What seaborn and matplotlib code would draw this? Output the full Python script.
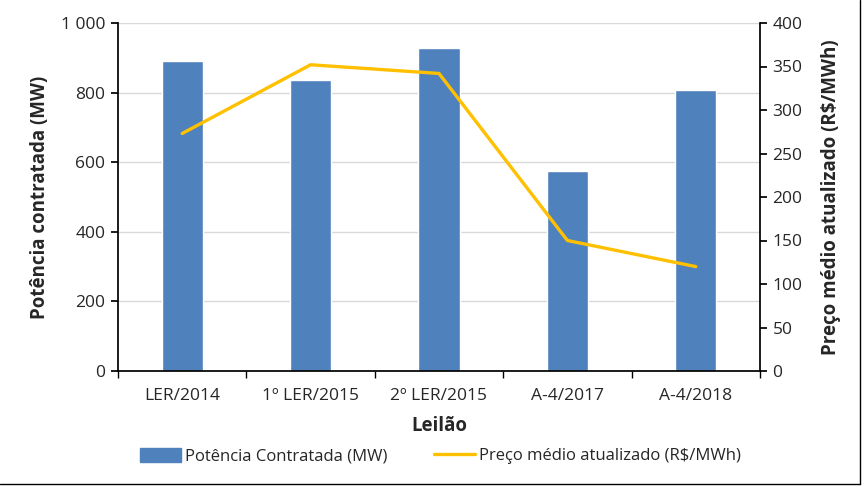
import matplotlib
matplotlib.use("Agg")
import matplotlib.pyplot as plt
import seaborn as sns
import pandas as pd
from matplotlib.lines import Line2D
from matplotlib.patches import Patch
from matplotlib.ticker import FuncFormatter

leiloes = ["LER/2014", "1º LER/2015", "2º LER/2015", "A-4/2017", "A-4/2018"]
potencia = [890, 835, 927, 575, 807]
preco = [273, 352, 342, 150, 120]

sns.set_theme(style="white")
plt.rcParams["font.family"] = ["Open Sans", "DejaVu Sans"]

df = pd.DataFrame({"Leilao": leiloes, "Potencia": potencia, "Preco": preco})

fig = plt.figure(figsize=(8.64, 4.87), dpi=100)
ax = fig.add_axes([118 / 864, 1 - 371 / 487, (760 - 118) / 864, (371 - 23) / 487])

sns.barplot(data=df, x="Leilao", y="Potencia", color="#4f81bd", saturation=1,
            width=0.32, ax=ax)
ax.set_ylim(0, 1000)
ax.set_xlim(-0.5, len(leiloes) - 0.5)
ax.set_yticks([0, 200, 400, 600, 800, 1000])
ax.yaxis.set_major_formatter(FuncFormatter(lambda v, p: f"{int(v):,}".replace(",", " ")))
ax.yaxis.grid(True, color="#d9d9d9", linewidth=1)
ax.set_axisbelow(True)
for s in ["top", "right"]:
    ax.spines[s].set_visible(False)
ax.spines["left"].set_color("black")
ax.spines["bottom"].set_color("black")
ax.tick_params(axis="y", left=True, length=5, color="black", labelsize=12.5, pad=4)
ax.tick_params(axis="x", bottom=False, labelsize=12.5, pad=6)
ax.set_xticks(range(len(leiloes)))
ax.set_xticklabels(leiloes)
ax.set_xticks([i - 0.5 for i in range(len(leiloes) + 1)], minor=True)
ax.tick_params(axis="x", which="minor", bottom=True, length=5, color="black")
ax.set_xlabel("Leilão", fontsize=13.5, fontweight="bold", labelpad=9)
ax.set_ylabel("Potência contratada (MW)", fontsize=13.5, fontweight="bold", labelpad=8)

ax2 = ax.twinx()
sns.lineplot(x=list(range(len(leiloes))), y=preco, color="#ffc000", linewidth=2.4, ax=ax2)
ax2.set_ylim(0, 400)
ax2.set_yticks(range(0, 401, 50))
for s in ["top", "left", "bottom"]:
    ax2.spines[s].set_visible(False)
ax2.spines["right"].set_color("black")
ax2.tick_params(axis="y", right=True, length=5, color="black", labelsize=12.5, pad=4)
ax2.set_ylabel("Preço médio atualizado (R$/MWh)", fontsize=13.5, fontweight="bold", labelpad=13)

handles = [Patch(color="#4f81bd", label="Potência Contratada (MW)"),
           Line2D([0], [0], color="#ffc000", linewidth=2.4, label="Preço médio atualizado (R$/MWh)")]
fig.legend(handles=handles, loc="center", bbox_to_anchor=(440 / 864, 1 - 456 / 487), ncol=2,
           frameon=False, fontsize=12, handlelength=2.5, handleheight=0.9,
           handletextpad=0.2, columnspacing=2.8)

fig.add_artist(Line2D([0, 860 / 864], [1 - 484 / 487] * 2, transform=fig.transFigure, color="black", linewidth=1))
fig.add_artist(Line2D([860 / 864] * 2, [1, 1 - 484 / 487], transform=fig.transFigure, color="black", linewidth=1))

fig.savefig("out.png", dpi=100)
